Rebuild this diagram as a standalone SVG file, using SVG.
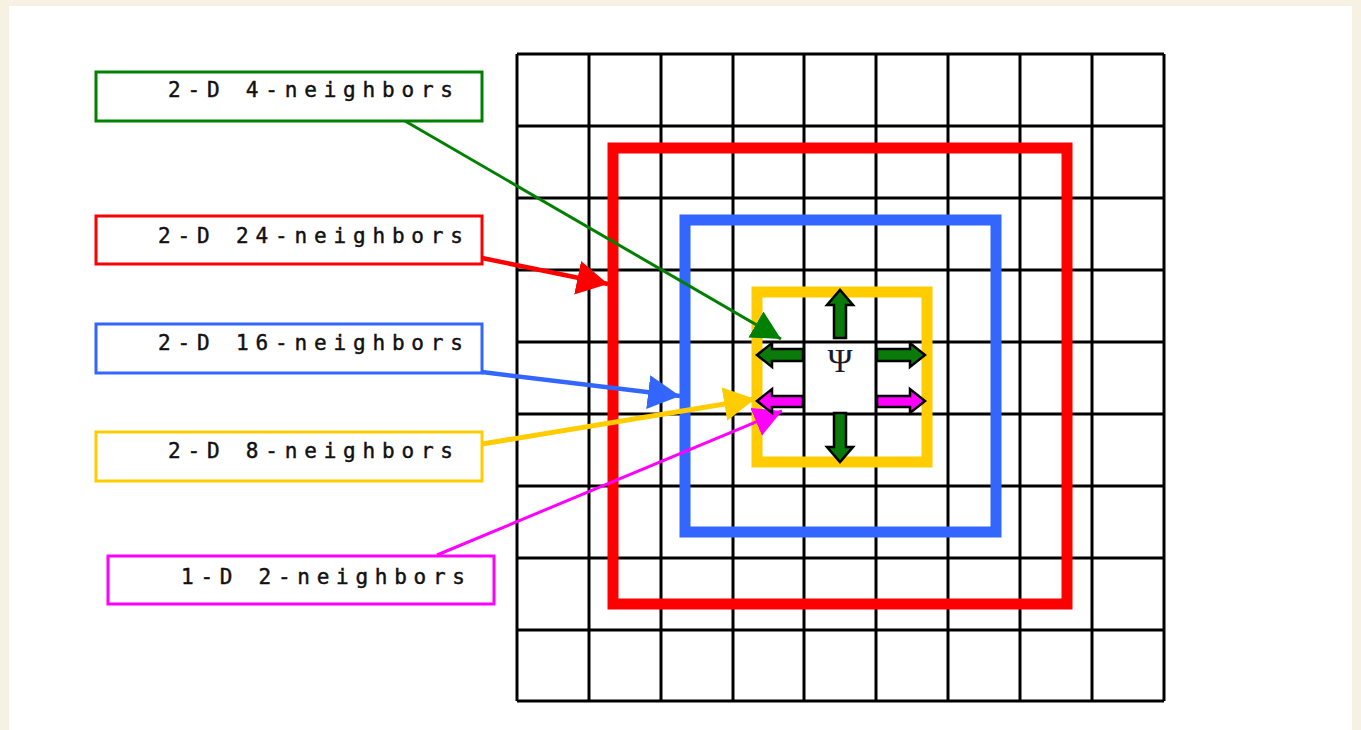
<svg xmlns="http://www.w3.org/2000/svg" width="1361" height="730" viewBox="0 0 1361 730">
<defs>
<style>
.grid line{stroke:#000;stroke-width:3}
.lbl{fill:#fff;stroke-width:3}
.txt{font-family:"DejaVu Sans Mono","Liberation Mono",monospace;font-size:21px;fill:#111;stroke:#111;stroke-width:0.45}
.ring{fill:none}
.conn{fill:none}
.blk{stroke:#000;stroke-width:2.5;stroke-linejoin:miter}
</style>
<marker id="mG" markerUnits="userSpaceOnUse" markerWidth="32" markerHeight="32" refX="29" refY="15" orient="auto"><path d="M0,0 L29,15 L0,30 Z" fill="#008000"/></marker>
<marker id="mR" markerUnits="userSpaceOnUse" markerWidth="34" markerHeight="36" refX="31" refY="17" orient="auto"><path d="M0,0 L31,17 L0,34 Z" fill="#ff0000"/></marker>
<marker id="mB" markerUnits="userSpaceOnUse" markerWidth="34" markerHeight="36" refX="32" refY="17" orient="auto"><path d="M0,0 L32,17 L0,34 Z" fill="#3366ff"/></marker>
<marker id="mY" markerUnits="userSpaceOnUse" markerWidth="34" markerHeight="36" refX="31" refY="17" orient="auto"><path d="M0,0 L31,17 L0,34 Z" fill="#ffcc00"/></marker>
<marker id="mM" markerUnits="userSpaceOnUse" markerWidth="32" markerHeight="32" refX="28" refY="15" orient="auto"><path d="M0,0 L28,15 L0,30 Z" fill="#ff00ff"/></marker>
</defs>
<rect x="0" y="0" width="1361" height="730" fill="#f6f1e2"/>
<rect x="9" y="6" width="1343" height="724" fill="#ffffff"/>

<g id="grid" class="grid">
<line x1="517" y1="54" x2="517" y2="701"/>
<line x1="589" y1="54" x2="589" y2="701"/>
<line x1="661" y1="54" x2="661" y2="701"/>
<line x1="733" y1="54" x2="733" y2="701"/>
<line x1="804" y1="54" x2="804" y2="701"/>
<line x1="876" y1="54" x2="876" y2="701"/>
<line x1="948" y1="54" x2="948" y2="701"/>
<line x1="1020" y1="54" x2="1020" y2="701"/>
<line x1="1092" y1="54" x2="1092" y2="701"/>
<line x1="1164" y1="54" x2="1164" y2="701"/>
<line x1="517" y1="54" x2="1164" y2="54"/>
<line x1="517" y1="126" x2="1164" y2="126"/>
<line x1="517" y1="198" x2="1164" y2="198"/>
<line x1="517" y1="270" x2="1164" y2="270"/>
<line x1="517" y1="342" x2="1164" y2="342"/>
<line x1="517" y1="414" x2="1164" y2="414"/>
<line x1="517" y1="486" x2="1164" y2="486"/>
<line x1="517" y1="558" x2="1164" y2="558"/>
<line x1="517" y1="630" x2="1164" y2="630"/>
<line x1="517" y1="701" x2="1164" y2="701"/>
</g>

<g id="ring24"><rect class="ring" x="613" y="148" width="454" height="456" stroke="#ff0000" stroke-width="11"/></g>
<g id="ring16"><rect class="ring" x="685" y="220" width="311" height="312" stroke="#3366ff" stroke-width="11"/></g>
<g id="ring8"><rect class="ring" x="757" y="292" width="170" height="170" stroke="#ffcc00" stroke-width="11"/></g>

<g id="label-4"><rect class="lbl" x="96" y="72" width="386" height="49" stroke="#008000"/><text class="txt" x="168" y="97" textLength="285" lengthAdjust="spacing">2-D 4-neighbors</text></g>
<g id="label-24"><rect class="lbl" x="96" y="216" width="386" height="48" stroke="#ff0000"/><text class="txt" x="158" y="243" textLength="305" lengthAdjust="spacing">2-D 24-neighbors</text></g>
<g id="label-16"><rect class="lbl" x="96" y="324" width="386" height="49" stroke="#3366ff"/><text class="txt" x="158" y="350" textLength="305" lengthAdjust="spacing">2-D 16-neighbors</text></g>
<g id="label-8"><rect class="lbl" x="96" y="432" width="386" height="49" stroke="#ffcc00"/><text class="txt" x="168" y="458" textLength="285" lengthAdjust="spacing">2-D 8-neighbors</text></g>
<g id="label-2"><rect class="lbl" x="108" y="556" width="386" height="48" stroke="#ff00ff"/><text class="txt" x="181" y="584" textLength="284" lengthAdjust="spacing">1-D 2-neighbors</text></g>

<g id="connectors" class="conn">
<line x1="405" y1="121" x2="781" y2="339" stroke="#008000" stroke-width="3" marker-end="url(#mG)"/>
<line x1="482" y1="258" x2="608" y2="284" stroke="#ff0000" stroke-width="4.5" marker-end="url(#mR)"/>
<line x1="482" y1="372" x2="680" y2="396" stroke="#3366ff" stroke-width="4.5" marker-end="url(#mB)"/>
<line x1="482" y1="444" x2="755" y2="399" stroke="#ffcc00" stroke-width="5" marker-end="url(#mY)"/>
<line x1="437" y1="555" x2="782" y2="411" stroke="#ff00ff" stroke-width="3" marker-end="url(#mM)"/>
</g>

<g id="center">
<path class="blk" fill="#0a7a0a" d="M834,338 L834,305 L827,305 L840,290 L853,305 L846,305 L846,338 Z"/>
<path class="blk" fill="#0a7a0a" d="M834,413 L834,447 L827,447 L840,462 L853,447 L846,447 L846,413 Z"/>
<path class="blk" fill="#0a7a0a" d="M803,349 L772,349 L772,343 L757,355 L772,367 L772,361 L803,361 Z"/>
<path class="blk" fill="#0a7a0a" d="M877,349 L910,349 L910,343 L925,355 L910,367 L910,361 L877,361 Z"/>
<path class="blk" fill="#ff00ff" d="M803,396 L772,396 L772,389 L757,401 L772,413 L772,407 L803,407 Z"/>
<path class="blk" fill="#ff00ff" d="M877,396 L910,396 L910,389 L925,401 L910,413 L910,407 L877,407 Z"/>
<text x="840" y="372" text-anchor="middle" font-family="Liberation Serif, serif" font-size="34" fill="#1a1a2e">Ψ</text>
</g>
</svg>
